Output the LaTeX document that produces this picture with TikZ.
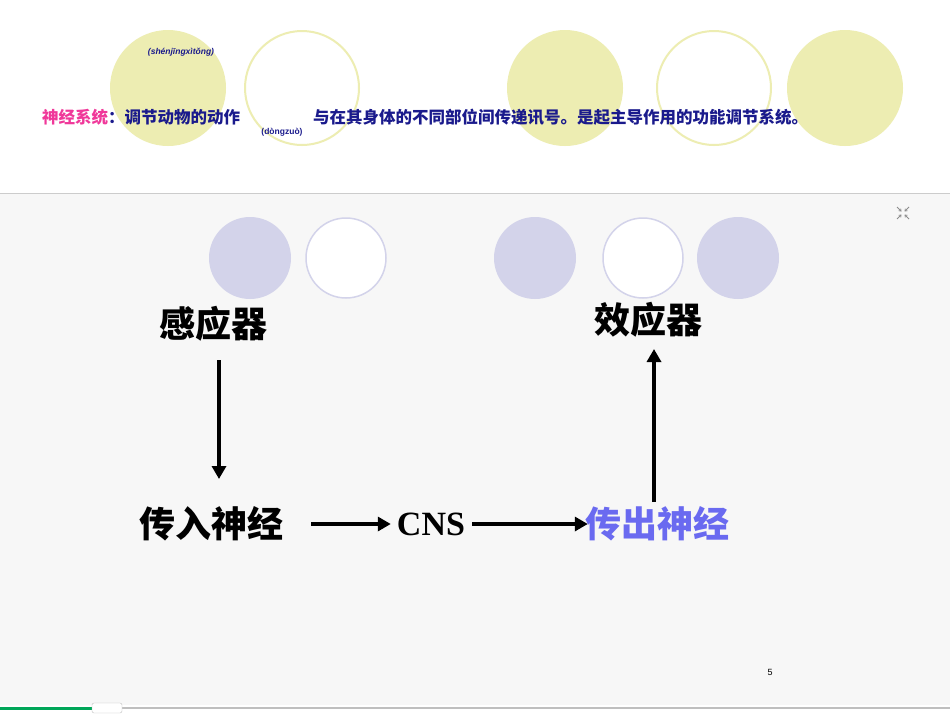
\documentclass[tikz,border=0pt]{standalone}
\usepackage{fontspec}
\setmainfont{Liberation Sans}
\newfontfamily\cjk{Noto Sans CJK SC}
\newfontfamily\serifb{Liberation Serif}
\usetikzlibrary{arrows.meta}
\definecolor{yel}{HTML}{EDEDB2}
\definecolor{lav}{HTML}{D3D3EA}
\definecolor{navy}{HTML}{1A1A8C}
\definecolor{pinkc}{HTML}{F0389A}
\definecolor{blu}{HTML}{6A6AF0}
\begin{document}
\begin{tikzpicture}[x=1pt,y=-1pt,
  yc/.style={circle,fill=yel,minimum size=116pt,inner sep=0},
  yo/.style={circle,draw=yel,line width=2pt,fill=white,minimum size=114pt,inner sep=0},
  lc/.style={circle,fill=lav,minimum size=82pt,inner sep=0},
  lo/.style={circle,draw=lav,line width=1.5pt,fill=white,minimum size=80pt,inner sep=0},
  big/.style={font=\cjk\fontsize{36}{36}\selectfont\bfseries,inner sep=0},
  arr/.style={line width=3.5pt,-{Triangle[length=13pt,width=14pt]}},
  ico/.style={black!45,line width=0.8pt,-{Straight Barb[length=2pt,width=3pt]}}]
\useasboundingbox (0,0) rectangle (950,713);
\fill[white] (0,0) rectangle (950,713);
\node[yc] (c1) at (168,88) {};
\node[yo] (c2) at (302,88) {};
\node[yc] (c3) at (565,88) {};
\node[yo] (c4) at (714,88) {};
\node[yc] (c5) at (845,88) {};
\node[font=\bfseries\itshape\fontsize{8.5}{8.5}\selectfont,text=navy] (p1) at (181,52) {(shénjīngxìtǒng)};
\node[font=\bfseries\fontsize{8.5}{8.5}\selectfont,text=navy] (p2) at (282,132) {(dòngzuò)};
\node[anchor=west,inner sep=0,font=\cjk\bfseries\fontsize{16.5}{16.5}\selectfont] (t1) at (42,117) {\textcolor{pinkc}{神经系统}\textcolor{navy}{：调节动物的动作}};
\node[anchor=west,inner sep=0,font=\cjk\bfseries\fontsize{16.5}{16.5}\selectfont,text=navy] (t2) at (313,117) {与在其身体的不同部位间传递讯号。是起主导作用的功能调节系统。};
\fill[black!3] (0,193) rectangle (950,705);
\draw[black!20] (0,193) -- (950,193);
\node[lc] (d1) at (250,258) {};
\node[lo] (d2) at (346,258) {};
\node[lc] (d3) at (535,258) {};
\node[lo] (d4) at (643,258) {};
\node[lc] (d5) at (738,258) {};
\node[big] (a) at (213,324) {感应器};
\node[big] (b) at (648,320) {效应器};
\node[big] (c) at (211,524) {传入神经};
\node[font=\fontsize{34}{34}\selectfont\bfseries\serifb,inner sep=0] (n) at (431,524) {CNS};
\node[big,text=blu] (e) at (657,524) {传出神经};
\draw[arr] (219,360) -- (219,479);
\draw[arr] ([xshift=28pt]c.east) -- ([xshift=-6pt]n.west);
\draw[arr] ([xshift=7pt]n.east) -- ([xshift=3pt]e.west);
\draw[arr] (654,502) -- (654,349);
\node[font=\fontsize{9}{9}\selectfont] (pg) at (770,672) {5};
\coordinate (ic) at (903,213);
\draw[ico] ([shift={(-6,-6)}]ic) -- ([shift={(-1.5,-1.5)}]ic);
\draw[ico] ([shift={(6,-6)}]ic) -- ([shift={(1.5,-1.5)}]ic);
\draw[ico] ([shift={(-6,6)}]ic) -- ([shift={(-1.5,1.5)}]ic);
\draw[ico] ([shift={(6,6)}]ic) -- ([shift={(1.5,1.5)}]ic);
\draw[black!25,line width=1.5pt] (95,708) -- (950,708);
\draw[teal!70!green,line width=3pt] (0,708) -- (95,708);
\node[draw=black!25,fill=white,rounded corners=2pt,minimum width=30pt,minimum height=10pt,inner sep=0] (k) at (107,708) {};
\end{tikzpicture}
\end{document}
